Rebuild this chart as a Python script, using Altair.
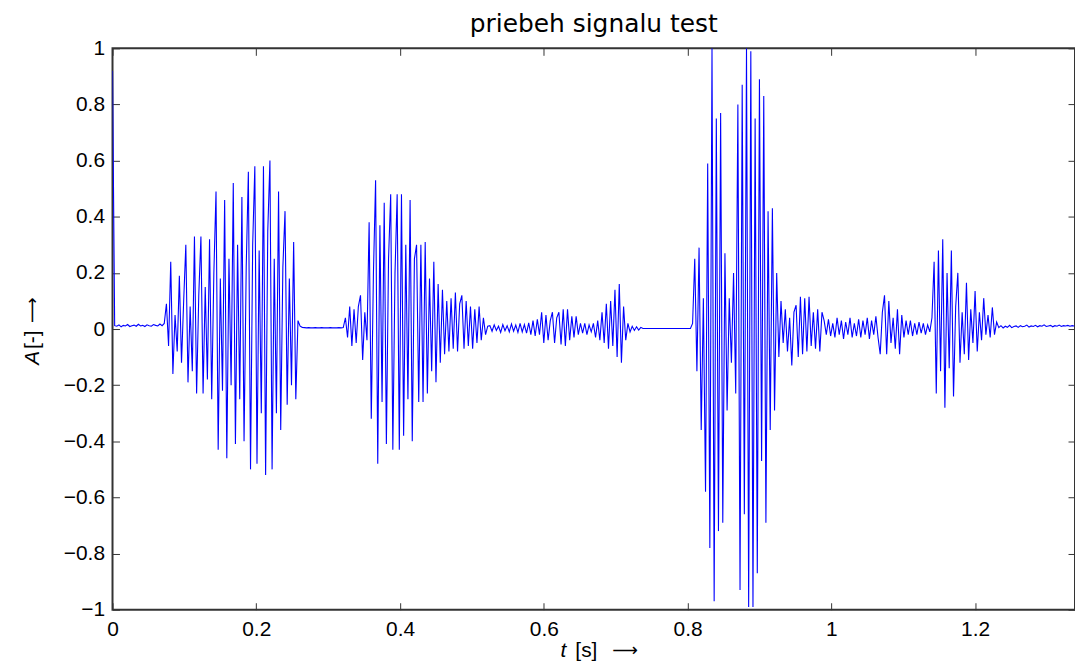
import altair as alt
import pandas as pd

# sample spacing of the (decimated) signal, seconds
dt = 0.003

# amplitude values, segment by segment (start = sample index)
lead_in = [0.92, 0.012, 0.010, 0.015, 0.008, 0.013, 0.011, 0.016, 0.009, 0.012,
           0.014, 0.010, 0.017, 0.011, 0.013, 0.009, 0.015, 0.012, 0.010, 0.016,
           0.013, 0.011, 0.018, 0.012, 0.020]
voiced_1 = [0.09, -0.06, 0.24, -0.16, 0.05, -0.08, 0.19, -0.12, 0.10, 0.30,
            -0.19, 0.08, -0.15, 0.33, -0.23, 0.12, 0.33, -0.23, 0.15, -0.18,
            0.32, -0.25, 0.20, 0.49, -0.43, 0.18, -0.22, 0.46, -0.46, 0.25,
            -0.20, 0.52, -0.41, 0.30, -0.25, 0.47, -0.40, 0.22, 0.56, -0.50,
            0.30, 0.58, -0.48, 0.28, -0.30, 0.58, -0.52, 0.35, 0.60, -0.50,
            0.25, -0.30, 0.49, -0.36, 0.22, 0.42, -0.27, 0.18, -0.20, 0.31,
            -0.25]
pause_1 = [0.03, 0.01, 0.006, 0.005, 0.004, 0.005, 0.004, 0.004, 0.005, 0.004,
           0.004, 0.005, 0.004, 0.004, 0.004, 0.005, 0.004, 0.004, 0.004, 0.005,
           0.004]
voiced_2 = [0.005, 0.04, -0.03, 0.08, -0.06, 0.07, -0.05, 0.08, 0.12, -0.11,
            0.06, -0.04, 0.38, -0.32, 0.20, 0.53, -0.48, 0.37, -0.26, 0.45,
            -0.41, 0.25, 0.48, -0.43, 0.20, 0.48, -0.43, 0.48, -0.38, 0.30,
            -0.25, 0.46, -0.40, 0.25, 0.30, -0.26, 0.30, -0.26, 0.31, -0.23,
            0.18, -0.15, 0.24, -0.19, 0.16, -0.12, 0.14, -0.09, 0.10, -0.08,
            0.11, -0.07, 0.13, -0.08, 0.09, 0.12, -0.07, 0.10, -0.06, 0.08,
            -0.07, 0.07, -0.05, 0.08, -0.04, 0.04, -0.02, 0.01]
noise_1 = [0.012, -0.008, 0.015, -0.005, 0.01, -0.012, 0.016, -0.006, 0.012, -0.01,
           0.018, -0.008, 0.014, -0.012, 0.02, -0.01, 0.016, -0.015, 0.022]
voiced_3 = [-0.02, 0.03, -0.025, 0.035, -0.02, 0.06, -0.05, 0.05, -0.04, 0.03,
            0.06, -0.05, 0.04, 0.06, -0.055, 0.07, -0.06, 0.07, -0.04, 0.045,
            -0.03, 0.045, -0.02, 0.02, -0.015, 0.02, -0.02, 0.015, -0.01, 0.02,
            -0.03, 0.03, -0.04, 0.06, -0.05, 0.09, -0.07, 0.10, -0.06, 0.14,
            -0.10, 0.16, -0.12, 0.08, -0.04, 0.02, -0.01, 0.01, -0.005, 0.008,
            -0.004, 0.006]
pause_2 = [0.002, 0.002, 0.002, 0.002, 0.002, 0.002, 0.002, 0.002, 0.002, 0.002,
           0.002, 0.002, 0.002, 0.002, 0.002, 0.002, 0.002, 0.002, 0.002, 0.002,
           0.002, 0.002, 0.002]
burst_4 = [0.02, 0.25, -0.15, 0.29, -0.36, 0.11, -0.58, 0.59, -0.78, 1.0,
           -0.97, 0.75, -0.72, 0.77, -0.69, 0.27, -0.29, 0.11, -0.12, 0.20,
           -0.23, 0.80, -0.93, 0.87, -0.66, 1.0, -0.99, 0.99, -0.99, 0.75,
           -0.87, 0.89, -0.47, 0.83, -0.69, 0.42, -0.36, 0.43, -0.29, 0.20,
           -0.10, 0.10]
noise_2 = [-0.05, 0.07, -0.08, 0.04, -0.13, 0.06, 0.085, -0.10, 0.115, -0.09,
           0.11, -0.08, 0.115, -0.06, 0.06, -0.07, 0.07, -0.08, 0.06,
           0.03, -0.02, 0.035, -0.025, 0.02, -0.03, 0.04, -0.02, 0.03, -0.035,
           0.025, -0.02, 0.04, -0.03, 0.02, -0.025, 0.035, -0.03, 0.03, -0.02,
           0.04, -0.035, 0.03, -0.02, 0.045, -0.03,
           -0.09, 0.06, 0.12, -0.09, 0.10, -0.05, 0.04, -0.07, 0.07, -0.09,
           0.05, -0.03, 0.03, -0.02, 0.03, -0.025, 0.02, -0.02, 0.025, -0.015,
           0.02, -0.02, 0.015, -0.01]
voiced_5 = [0.04, 0.24, -0.23, 0.28, -0.15, 0.32, -0.28, 0.20, -0.14, 0.28,
            -0.24, 0.08, 0.20, -0.12, 0.06, -0.09, 0.165, -0.11, 0.07, -0.05,
            0.135, -0.08, 0.06, -0.04, 0.11, -0.02, 0.05, -0.03, 0.077, -0.02,
            0.025]
tail = [0.005, 0.012, 0.004, 0.01, 0.006, 0.013, 0.005, 0.009, 0.011, 0.006,
        0.012, 0.008, 0.01, 0.014, 0.007, 0.011, 0.009, 0.013, 0.008, 0.012,
        0.01, 0.015, 0.009, 0.011, 0.013, 0.008, 0.012, 0.01, 0.014, 0.009,
        0.012, 0.011, 0.013, 0.01, 0.012, 0.011]

segment_starts = [0, 25, 86, 107, 175, 194, 246, 269, 311, 380, 411]
segments = [lead_in, voiced_1, pause_1, voiced_2, noise_1, voiced_3, pause_2,
            burst_4, noise_2, voiced_5, tail]

x_ticks = [0, 0.2, 0.4, 0.6, 0.8, 1.0, 1.2]
y_ticks = [-1, -0.8, -0.6, -0.4, -0.2, 0, 0.2, 0.4, 0.6, 0.8, 1]
x_domain = [0, 1.339]
y_domain = [-1, 1]

title_text = "priebeh signalu test"

rows = []
for start, vals in zip(segment_starts, segments):
    for k, v in enumerate(vals):
        rows.append({"t": round((start + k) * dt, 5), "a": v})
df = pd.DataFrame(rows).sort_values("t")

FONT = "Liberation Sans"
TICK = "#333333"

x_bottom = alt.Axis(values=x_ticks, format="~g", orient="bottom", offset=-7, tickSize=7,
                    domain=False, grid=False, title=None, labelFont=FONT, labelFontSize=21,
                    labelPadding=9, labelColor="black", tickColor=TICK, labelFlush=False,
                    labelOverlap=False)
y_left = alt.Axis(values=y_ticks, format="~g", orient="left", offset=-7, tickSize=7,
                  domain=False, grid=False, title=None, labelFont=FONT, labelFontSize=21,
                  labelPadding=8, labelColor="black", tickColor=TICK, labelFlush=False,
                  labelOverlap=False)
x_top = alt.Axis(values=x_ticks, orient="top", offset=-7, tickSize=7, domain=False,
                 grid=False, title=None, labels=False, tickColor=TICK)
y_right = alt.Axis(values=y_ticks, orient="right", offset=-7, tickSize=7, domain=False,
                   grid=False, title=None, labels=False, tickColor=TICK)

xs = alt.Scale(domain=x_domain, nice=False, zero=False)
ys = alt.Scale(domain=y_domain, nice=False, zero=False)

signal = alt.Chart(df).mark_line(color="#0000ff", strokeWidth=1.1, clip=True).encode(
    x=alt.X("t:Q", scale=xs, axis=x_bottom),
    y=alt.Y("a:Q", scale=ys, axis=y_left),
)
frame = alt.Chart(df).mark_point(opacity=0).encode(
    x=alt.X("t:Q", scale=xs, axis=x_top),
    y=alt.Y("a:Q", scale=ys, axis=y_right),
)

one = pd.DataFrame({"k": [0]})


def label(text, x, y, font=FONT, size=21, italic=False, angle=0, align="left"):
    kw = dict(text=text, font=font, fontSize=size, align=align,
              baseline="middle", color="black")
    if italic:
        kw["fontStyle"] = "italic"
    if angle:
        kw["angle"] = angle
    return alt.Chart(one).mark_text(**kw).encode(x=alt.value(x), y=alt.value(y))


title = alt.Chart(one).mark_text(text=title_text, font="DejaVu Sans", fontSize=25,
                                 align="center", baseline="alphabetic", color="black").encode(
    x=alt.value(483.5), y=alt.value(-16))

# y axis title: A [-] ->  (rotated)
ylab_a = label("A", -80, 318, italic=True, angle=270)
ylab_b = label("[-]", -80, 302, angle=270)
ylab_c = label("⟶", -80, 276, font="DejaVu Sans", size=18, angle=270)
# x axis title: t [s] ->
xlab_a = label("t", 450, 606, italic=True)
xlab_b = label("[s]", 465, 606)
xlab_c = label("⟶", 502, 606, font="DejaVu Sans", size=18)

chart = alt.layer(signal, frame, title, ylab_a, ylab_b, ylab_c, xlab_a, xlab_b, xlab_c).resolve_scale(
    x="independent", y="independent"
).properties(
    width=967, height=564,
    autosize=alt.AutoSizeParams(type="none"),
    padding={"left": 105, "top": 39, "right": 0, "bottom": 52},
).configure_view(stroke="#333333", strokeWidth=2)

chart.save("out.html", embed_options={"renderer": "svg", "actions": False})
